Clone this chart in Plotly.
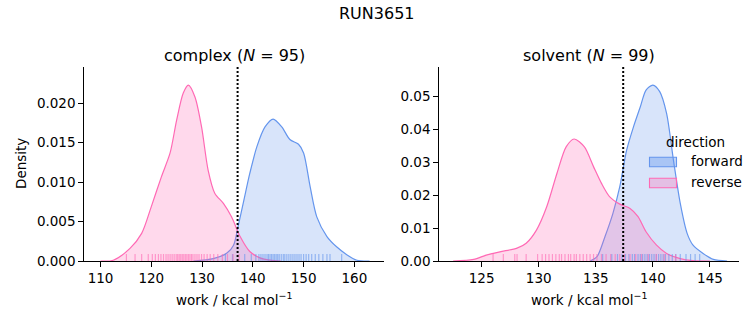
import plotly.graph_objects as go

# ---------------- data ----------------
complex_fwd_x = [128.3, 132.2, 134.9, 136.2, 137.1, 138.1, 139.4, 140.8, 142.4, 144.0, 145.7, 147.3,
                 149.0, 150.0, 151.3, 152.6, 154.6, 156.5, 158.5, 160.5, 163.0]
complex_fwd_y = [0, 0.0003, 0.0010, 0.0020, 0.0044, 0.0073, 0.0111, 0.0145, 0.0170, 0.0180, 0.0170, 0.0154,
                 0.0148, 0.0137, 0.0094, 0.0056, 0.0031, 0.0018, 0.0008, 0.0001, 0]
complex_rev_x = [110.0, 112.5, 115.8, 118.1, 120.0, 122.0, 123.7, 125.0, 126.3, 127.3, 128.6, 129.9,
                 131.2, 132.5, 134.2, 135.8, 137.5, 139.4, 141.4, 143.4, 145.5]
complex_rev_y = [0, 0.0001, 0.0016, 0.0035, 0.0069, 0.0107, 0.0137, 0.0179, 0.0213, 0.0223, 0.0208, 0.0170,
                 0.0115, 0.0086, 0.0073, 0.0056, 0.0031, 0.0012, 0.0004, 0.0001, 0]

solvent_fwd_x = [134.5, 135.1, 135.8, 136.5, 137.1, 137.7, 138.3, 138.9, 139.4, 140.0, 140.6, 141.2,
                 141.8, 142.4, 143.0, 143.5, 144.4, 145.3, 146.5]
solvent_fwd_y = [0, 0.0013, 0.0074, 0.0145, 0.0226, 0.0337, 0.0408, 0.0469, 0.0520, 0.0535, 0.0515, 0.0449,
                 0.0307, 0.0175, 0.0084, 0.0049, 0.0023, 0.0005, 0]
solvent_rev_x = [122.5, 124.3, 125.4, 126.6, 128.1, 128.9, 129.8, 130.7, 131.6, 132.4, 133.1, 134.0,
                 134.8, 135.5, 136.2, 137.1, 138.0, 138.7, 139.4, 140.3, 141.2, 142.4, 143.5, 145.0]
solvent_rev_y = [0, 0.0005, 0.0018, 0.0028, 0.0039, 0.0054, 0.0094, 0.0165, 0.0267, 0.0347, 0.0371, 0.0347,
                 0.0287, 0.0236, 0.0196, 0.0173, 0.0160, 0.0135, 0.0089, 0.0049, 0.0023, 0.0007, 0.0001, 0]

complex_fwd_rug = [134.6, 136.0, 138.4, 139.7, 140.6, 141.2, 141.6, 142.0, 142.4, 142.8, 143.1, 143.4, 143.7,
                   144.0, 144.3, 144.6, 144.9, 145.2, 145.6, 146.0, 146.3, 146.7, 147.1, 147.5, 147.9, 148.3,
                   148.7, 149.1, 149.5, 150.0, 150.5, 151.0, 151.6, 152.3, 153.0, 153.8, 154.6, 155.2, 157.5]
complex_rev_rug = [115.1, 116.8, 118.1, 119.4, 120.2, 120.8, 121.4, 121.9, 122.4, 122.9, 123.3, 123.7, 124.1,
                   124.5, 124.9, 125.2, 125.5, 125.8, 126.1, 126.4, 126.7, 127.0, 127.3, 127.6, 127.9, 128.2,
                   128.6, 129.0, 129.4, 129.9, 130.4, 131.0, 131.6, 132.3, 133.1, 134.0, 135.0, 136.1, 137.3]
solvent_fwd_rug = [135.6, 136.4, 136.9, 137.3, 137.6, 137.9, 138.2, 138.4, 138.7, 138.9, 139.1, 139.3, 139.5,
                   139.7, 139.9, 140.1, 140.3, 140.5, 140.7, 140.9, 141.1, 141.4, 141.7, 142.0, 142.4, 142.9,
                   143.3, 143.7, 144.1]
solvent_rev_rug = [126.0, 126.9, 127.9, 128.1, 128.9, 129.9, 130.3, 130.6, 130.9, 131.2, 131.5, 131.8, 132.0,
                   132.3, 132.6, 132.8, 133.1, 133.3, 133.6, 133.9, 134.2, 134.5, 134.8, 135.1, 135.5, 135.9,
                   136.3, 136.7, 137.1, 137.5, 138.0, 138.5, 139.0, 139.6, 140.3, 141.0, 142.0]

complex_dg = 137.0
solvent_dg = 137.4

complex_xticks = [110, 120, 130, 140, 150, 160]
solvent_xticks = [125, 130, 135, 140, 145]

suptitle = "RUN3651"
complex_title = "complex (<i>N</i> = 95)"
solvent_title = "solvent (<i>N</i> = 99)"
xlabel = "work / kcal mol<sup>−1</sup>"
ylabel = "Density"
legend_title = "direction"
directions = ["forward", "reverse"]

# ---------------- style ----------------
BLUE = "#6495ED"
PINK = "#FF69B4"
BLUE_FILL = "rgba(100,149,237,0.25)"
PINK_FILL = "rgba(255,105,180,0.25)"
FONT = "DejaVu Sans"
W, H = 753, 325

def px_x(p):
    return p / W

def px_y(p):
    return 1 - p / H

fig = go.Figure()

def kde(x, y, color, fill, xa, ya):
    fig.add_trace(go.Scatter(x=x, y=y, mode="lines", line=dict(color=color, width=1.2, shape="spline", smoothing=0.8),
                             fill="tozeroy", fillcolor=fill, xaxis=xa, yaxis=ya, showlegend=False, hoverinfo="skip"))

kde(complex_fwd_x, complex_fwd_y, BLUE, BLUE_FILL, "x", "y")
kde(complex_rev_x, complex_rev_y, PINK, PINK_FILL, "x", "y")
kde(solvent_fwd_x, solvent_fwd_y, BLUE, BLUE_FILL, "x2", "y2")
kde(solvent_rev_x, solvent_rev_y, PINK, PINK_FILL, "x2", "y2")

def rug(vals, color, xref, yref):
    for v in vals:
        fig.add_shape(type="line", xref=xref, yref=yref + " domain", x0=v, x1=v, y0=0, y1=0.036,
                      line=dict(color=color, width=1.2), opacity=0.6)

rug(complex_fwd_rug, BLUE, "x", "y")
rug(complex_rev_rug, PINK, "x", "y")
rug(solvent_fwd_rug, BLUE, "x2", "y2")
rug(solvent_rev_rug, PINK, "x2", "y2")

for dg, xr, yr in [(complex_dg, "x", "y"), (solvent_dg, "x2", "y2")]:
    fig.add_shape(type="line", xref=xr, yref=yr + " domain", x0=dg, x1=dg, y0=0, y1=1,
                  line=dict(color="black", width=2, dash="2px,2px"))

axis_common = dict(showline=True, linecolor="black", linewidth=1.1, ticks="outside", ticklen=5, tickwidth=1.1,
                   tickcolor="black", showgrid=False, zeroline=False, automargin=False,
                   tickfont=dict(family=FONT, size=13.5, color="black"))

ydom = [px_y(261), px_y(67)]
fig.update_layout(
    width=W, height=H, margin=dict(l=0, r=0, t=0, b=0, pad=0), autosize=False,
    paper_bgcolor="white", plot_bgcolor="white",
    xaxis=dict(domain=[px_x(84.3), px_x(384.3)], range=[106.8, 165.9], tickvals=complex_xticks,
               anchor="y", **axis_common),
    yaxis=dict(domain=ydom, range=[0, 0.0246], dtick=0.005, tickformat=".3f", anchor="x", **axis_common),
    xaxis2=dict(domain=[px_x(439.3), px_x(739.3)], range=[121.29, 147.57], tickvals=solvent_xticks,
                anchor="y2", **axis_common),
    yaxis2=dict(domain=ydom, range=[0, 0.059], dtick=0.01, tickformat=".2f", anchor="x2", **axis_common),
    showlegend=False,
)

def text(t, x, y, size, xanchor="center", angle=0):
    fig.add_annotation(text=t, x=x, y=y, xref="paper", yref="paper", showarrow=False, xanchor=xanchor,
                       yanchor="middle", textangle=angle, font=dict(family=FONT, size=size, color="black"))

text(suptitle, px_x(376.5), px_y(13), 16)
text(complex_title, px_x(234.3), px_y(55), 16)
text(solvent_title, px_x(589.3), px_y(55), 16)
text(xlabel, px_x(234.3), px_y(299), 13.5)
text(xlabel, px_x(589.3), px_y(299), 13.5)
text(ylabel, px_x(21), px_y(164), 13.5, angle=-90)

# legend (drawn manually, matplotlib style, no frame)
text(legend_title, px_x(695), px_y(141.5), 13.5)
for i, (name, col, fillc) in enumerate(zip(directions, [BLUE, PINK],
                                           ["rgba(100,149,237,0.4)", "rgba(255,105,180,0.3)"])):
    yc = 162 + i * 21
    fig.add_shape(type="rect", xref="paper", yref="paper", x0=px_x(649.5), x1=px_x(676.5),
                  y0=px_y(yc - 4.8), y1=px_y(yc + 4.8), line=dict(color=col, width=1.1), fillcolor=fillc)
    text(name, px_x(688.5), px_y(yc - 1), 13.5, xanchor="left")

fig.write_html("out.html", config={"displayModeBar": False})
